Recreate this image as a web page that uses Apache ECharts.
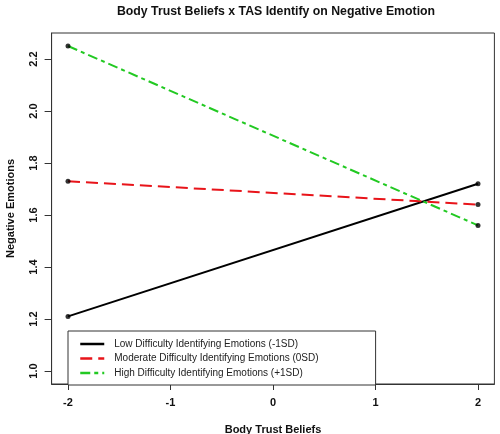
<!DOCTYPE html>
<html>
<head>
<meta charset="utf-8">
<script src="https://cdn.jsdelivr.net/npm/echarts@6/dist/echarts.min.js"></script>
<style>
  html, body { margin: 0; padding: 0; background: #fff; }
  #chart { width: 500px; height: 434px; }
</style>
</head>
<body>
<div id="chart"></div>
<script>
// 数据
var xValues = [-2, 2];
var lowValues = [1.21, 1.72];
var moderateValues = [1.73, 1.64];
var highValues = [2.25, 1.56];
var seriesNames = [
  "Low Difficulty Identifying Emotions (-1SD)",
  "Moderate Difficulty Identifying Emotions (0SD)",
  "High Difficulty Identifying Emotions (+1SD)"
];
var xTicks = [-2, -1, 0, 1, 2];
var yTicks = [1.0, 1.2, 1.4, 1.6, 1.8, 2.0, 2.2];

var font = "Liberation Sans, Arial, sans-serif";

function pairs(ys) {
  return xValues.map(function (x, i) { return [x, ys[i]]; });
}

var chart = echarts.init(document.getElementById("chart"));
chart.setOption({
  animation: false,
  title: {
    text: "Body Trust Beliefs x TAS Identify on Negative Emotion",
    left: 271,
    top: 1,
    textAlign: "center",
    textStyle: { fontFamily: font, fontSize: 12.3, fontWeight: "bold", color: "#111" }
  },
  grid: {
    left: 51.6,
    right: 5.6,
    top: 33,
    bottom: 50,
    outerBoundsMode: "none",
    show: true,
    borderColor: "#333",
    borderWidth: 1
  },
  legend: {
    orient: "vertical",
    left: 68,
    top: 331,
    data: seriesNames,
    backgroundColor: "#fff",
    borderColor: "#333",
    borderWidth: 1,
    borderRadius: 0,
    padding: [8, 57, 7, 11],
    itemGap: 4.5,
    itemWidth: 24,
    itemHeight: 10,
    itemStyle: { opacity: 0 },
    lineStyle: { width: 2.5 },
    textStyle: { fontFamily: font, fontSize: 10, color: "#222", padding: [0, 0, 0, 5] }
  },
  xAxis: {
    type: "value",
    min: -2.16,
    max: 2.16,
    name: "Body Trust Beliefs",
    nameLocation: "middle",
    nameGap: 40,
    nameTextStyle: { fontFamily: font, fontSize: 11, fontWeight: "bold", color: "#111" },
    splitLine: { show: false },
    axisLine: { show: true, onZero: false, lineStyle: { color: "#333" } },
    axisTick: { show: true, inside: false, length: 6, customValues: xTicks, lineStyle: { color: "#333" } },
    axisLabel: {
      customValues: xTicks,
      margin: 13,
      fontFamily: font, fontSize: 11, fontWeight: "bold", color: "#111"
    }
  },
  yAxis: {
    type: "value",
    min: 0.95,
    max: 2.30,
    name: "Negative Emotions",
    nameLocation: "middle",
    nameGap: 35,
    nameRotate: 90,
    nameTextStyle: { fontFamily: font, fontSize: 11, fontWeight: "bold", color: "#111" },
    splitLine: { show: false },
    axisLine: { show: true, onZero: false, lineStyle: { color: "#333" } },
    axisTick: { show: true, inside: false, length: 7, customValues: yTicks, lineStyle: { color: "#333" } },
    axisLabel: {
      customValues: yTicks,
      rotate: 90,
      margin: 12,
      formatter: function (v) { return v.toFixed(1); },
      fontFamily: font, fontSize: 11, fontWeight: "bold", color: "#111"
    }
  },
  series: [
    {
      name: seriesNames[0],
      type: "line",
      data: pairs(lowValues),
      symbol: "none",
      lineStyle: { color: "#000", width: 2, type: "solid" },
      itemStyle: { color: "#000" },
      z: 2
    },
    {
      name: seriesNames[1],
      type: "line",
      data: pairs(moderateValues),
      symbol: "none",
      lineStyle: { color: "#e8141a", width: 2, type: [12, 6] },
      itemStyle: { color: "#e8141a" },
      z: 2
    },
    {
      name: seriesNames[2],
      type: "line",
      data: pairs(highValues),
      symbol: "none",
      lineStyle: { color: "#22c922", width: 2, type: [10, 4, 4, 4] },
      itemStyle: { color: "#22c922" },
      z: 2
    },
    {
      name: "points",
      type: "scatter",
      data: pairs(lowValues).concat(pairs(moderateValues), pairs(highValues)),
      symbol: "circle",
      symbolSize: 5,
      itemStyle: { color: "#000" },
      z: 3
    }
  ]
});
</script>
</body>
</html>
